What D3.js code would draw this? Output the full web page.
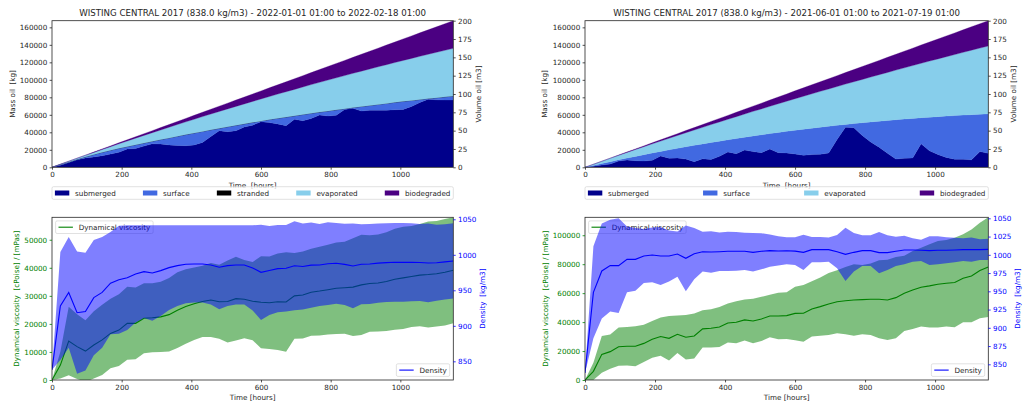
<!DOCTYPE html>
<html>
<head>
<meta charset="utf-8">
<script src="https://cdnjs.cloudflare.com/ajax/libs/d3/7.8.5/d3.min.js"></script>
<style>
  body { margin: 0; background: #fff; }
  svg { display: block; }
  text { white-space: pre; font-family: "DejaVu Sans", sans-serif; }
</style>
</head>
<body>
<svg id="fig" width="1026" height="410"></svg>
<script>
// ---------------- data ----------------
const oilDensity = 838.0; // kg/m3, used for the mass axis
const hours = [0,24,48,72,96,120,144,168,192,216,240,264,288,312,336,360,384,408,432,456,480,504,528,552,576,600,624,648,672,696,720,744,768,792,816,840,864,888,912,936,960,984,1008,1032,1056,1080,1104,1128,1152];

const titleWinter = "WISTING CENTRAL 2017 (838.0 kg/m3) - 2022-01-01 01:00 to 2022-02-18 01:00";
const titleSummer = "WISTING CENTRAL 2017 (838.0 kg/m3) - 2021-06-01 01:00 to 2021-07-19 01:00";

// oil budget, volume [m3]
const winterSubmerged = [0,2.8,6.5,10.2,12.8,14.2,15.8,18.0,20.5,25.0,25.5,29.0,32.0,31.8,30.5,29.8,29.5,30.5,34.0,42.0,50.0,48.6,50.0,55.0,57.5,62.3,61.0,59.2,56.8,65.5,63.6,66.5,71.4,70.0,71.0,79.0,80.5,76.8,78.0,78.0,78.0,78.5,79.0,83.0,88.5,93.0,92.0,91.8,91.8];
const winterSurface = [0,0.9,0.7,0.7,1.5,3.3,4.7,5.3,5.4,3.3,5.3,4.1,3.5,6.0,9.6,12.6,15.1,16.3,15.0,9.1,3.2,6.7,7.3,4.3,3.8,1.0,4.1,7.7,11.7,4.7,8.4,7.2,3.9,6.8,7.4,0.9,1.0,6.2,6.3,7.8,9.2,10.1,11.0,8.2,4.0,0.8,3.0,4.3,5.5];
const winterStranded = [0,0,0,0,0,0,0,0,0,0,0,0,0,0,0,0,0,0,0,0,0,0,0,0,0,0,0,0,0,0,0,0,0,0,0,0,0,0,0,0,0,0,0,0,0,0,0,0,0];
const winterEvaporated = [0,0.5,1.0,1.4,2.0,2.8,3.8,4.9,6.2,7.6,9.0,10.4,11.8,13.2,14.6,16.0,17.4,18.8,20.2,21.6,23.0,24.4,25.8,27.2,28.6,30.0,31.5,33.0,34.6,36.1,37.6,39.1,40.6,42.2,43.7,45.2,46.7,48.2,49.8,51.3,52.8,54.3,55.8,57.4,58.9,60.4,61.9,63.5,65.0];
const winterBiodegraded = [0,0.0,0.1,0.2,0.3,0.5,0.7,1.0,1.3,1.6,1.9,2.3,2.7,3.2,3.6,4.1,4.7,5.3,5.9,6.5,7.2,7.8,8.6,9.3,10.1,10.9,11.8,12.6,13.5,14.5,15.4,16.4,17.5,18.5,19.6,20.7,21.8,23.0,24.2,25.4,26.7,27.9,29.3,30.6,32.0,33.3,34.8,36.2,37.7];

const summerSubmerged = [0,1.5,3.0,4.5,8.5,10.0,9.0,8.6,9.5,15.5,12.5,12.6,11.2,7.7,11.6,10.5,15.0,21.0,18.6,23.5,21.4,20.0,25.0,20.0,19.5,18.2,16.4,17.3,17.7,19.5,38.0,54.5,54.0,43.5,34.5,27.5,19.0,11.2,12.5,12.7,32.0,22.5,17.5,13.5,11.0,11.0,10.2,21.5,19.0];
const summerSurface = [0,1.1,2.2,3.2,1.7,2.6,5.9,8.6,10.0,6.2,11.3,13.3,16.8,22.3,20.3,23.4,20.7,16.5,20.7,17.6,21.4,24.4,21.0,27.6,29.6,32.4,35.6,36.1,37.0,36.5,19.3,4.0,5.7,17.3,27.4,35.4,44.9,53.7,53.3,54.0,35.6,45.9,51.6,56.4,59.5,60.2,61.6,50.8,53.9];
const summerEvaporated = [0,1.5,3.0,4.6,6.1,7.7,9.3,10.9,12.5,14.1,15.8,17.5,19.2,20.9,22.6,24.4,26.2,28.0,29.8,31.6,33.5,35.3,37.2,39.1,41.0,43.0,44.9,46.9,48.9,50.9,52.9,55.0,57.0,59.1,61.2,63.4,65.5,67.7,69.9,72.1,74.3,76.5,78.8,81.0,83.3,85.6,88.0,90.3,92.7];
const summerBiodegraded = [0,0.0,0.1,0.2,0.4,0.6,0.8,1.1,1.4,1.7,2.1,2.4,2.9,3.3,3.8,4.3,4.8,5.3,5.9,6.5,7.1,7.8,8.5,9.2,9.9,10.7,11.5,12.3,13.1,13.9,14.8,15.7,16.6,17.6,18.5,19.5,20.6,21.6,22.7,23.7,24.9,26.0,27.1,28.3,29.5,30.7,32.0,33.2,34.5];

// oil properties: mean and spread among elements
const winterViscMean = [0,5300,13900,11900,10300,12500,14300,16600,17800,20200,20200,22000,22200,22500,23300,24900,26200,27200,28000,28500,27900,28000,29000,28800,28100,27700,27550,27900,27800,30000,30300,31300,31700,32200,32700,32900,33100,33900,34400,34600,35100,35900,36400,36900,37400,37600,37900,38400,39100];
const winterViscStd = [0,4800,12200,11500,11000,12000,12500,12400,12800,13000,12800,12500,12300,12500,13100,13500,13300,12900,12700,13200,13200,14600,14900,13950,13950,16400,16500,17200,17700,15300,15500,15500,15800,16000,16300,16400,17400,17900,17200,17300,17600,18000,18200,18000,18200,18900,18800,19000,18900];
const winterDensMean = [838,928,947,918.5,920,939.7,947,960,965,967.8,973,976.3,974.4,977.7,981.9,984.7,986.6,987.1,987.1,985.7,982.4,984.7,985.7,985.7,981.5,975.3,978,980.5,981,984.5,983.5,985.5,985.7,987.5,988,986.5,984.3,986.6,987,988.3,989,989.4,989.4,989.4,989.2,988.5,988.8,990,991.3];
const winterDensStd = [0,76,78,86,83,81,78,72,76,73.7,68.5,65.2,67.1,63.8,59.6,56.8,54.9,54.4,54.4,55.8,59.1,56.8,55.8,55.8,60,67.1,62.7,61.5,61,62.7,60.7,59.9,57.8,58.2,56.8,57.2,59.7,56.3,56.2,55.7,55.4,55.4,55.4,54.9,54.2,55.4,53.4,53.1,53];

const summerViscMean = [0,6000,17700,19600,23000,23300,23300,25300,28100,30000,28800,31600,29500,30400,35300,35700,36600,39400,39900,41500,40800,42200,44200,44200,44500,46000,46100,49100,50700,52500,54100,54800,55300,55500,55800,55800,55300,56900,59900,62200,64100,65000,66100,66800,67300,70300,71900,75600,78000];
const summerViscStd = [0,6000,12700,11850,13200,13300,13850,12900,12650,13250,15350,12900,15400,15550,12900,13200,13750,13500,14500,14150,15350,15300,14750,16000,16100,18500,19600,19100,20100,21400,21800,23200,24700,23900,24700,27000,27700,28100,26000,26900,27200,28800,29900,29900,30900,30400,32000,33000,34400];
const summerDensMean = [838,948.6,977.9,985.2,985.2,993.8,993.8,998.4,999.8,998.4,998.4,1001.1,995.2,1001.6,1004.3,1003.9,1004.3,1004.8,1004.8,1004.8,1003.4,1004.8,1005.7,1005.3,1005.5,1005,1003.4,1007.1,1007.1,1007.1,1004.3,1000.7,1003.4,1005.7,1005.7,1003,1003,1004.8,1006.6,1006.6,1006.2,1005.7,1006.2,1006.2,1006.6,1007.1,1007.1,1007.1,1007.5];
const summerDensStd = [0,63,65,63,65,45,43,37,37.5,39.7,35,31,45,35,27.3,28.3,26.4,26.9,26.5,25.6,26.4,24.7,22,20,18.5,19,24.2,17.4,17.4,16.5,22.8,36.5,26.4,21,21,28.3,23.8,20.1,19.6,16,14.6,19.6,19.2,17.8,16.9,15.5,16.5,14.2,14.6];

// tick labels
const hourTicks = [0,200,400,600,800,1000];
const massTicks = [0,20000,40000,60000,80000,100000,120000,140000,160000];
const volumeTicks = [0,25,50,75,100,125,150,175,200];
const viscTicksWinter = [0,10000,20000,30000,40000,50000];
const viscTicksSummer = [0,20000,40000,60000,80000,100000];
const densTicksWinter = [850,900,950,1000,1050];
const densTicksSummer = [850,875,900,925,950,975,1000,1025,1050];

// budget categories and colours
const budgetKeys = ["submerged","surface","stranded","evaporated","biodegraded"];
const budgetColors = {submerged:"#00008b", surface:"#4169e1", stranded:"#000000", evaporated:"#87ceeb", biodegraded:"#4b0082"};

// ---------------- drawing ----------------
const svg = d3.select("#fig");
const TXT = "#262626";
const FS = 7.2;       // tick / label / legend size
const FS_TITLE = 8.65;
const hourMax = 1152;

let clipCount = 0;
function addClip(b) {
  const id = "clip" + (clipCount++);
  svg.append("clipPath").attr("id", id).append("rect")
    .attr("x", b.x0).attr("y", b.y0).attr("width", b.x1 - b.x0).attr("height", b.y1 - b.y0);
  return "url(#" + id + ")";
}

function styleAxis(sel, color) {
  sel.attr("font-size", null).attr("font-family", null);
  sel.select(".domain").remove();
  sel.selectAll(".tick line").attr("stroke", color).attr("stroke-width", 0.8);
  sel.selectAll(".tick text").attr("fill", color).style("font-size", FS + "px");
}

function frame(g, b) {
  g.append("rect").attr("x", b.x0).attr("y", b.y0)
    .attr("width", b.x1 - b.x0).attr("height", b.y1 - b.y0)
    .attr("fill", "none").attr("stroke", TXT).attr("stroke-width", 0.8);
}

function rotatedLabel(g, x, yMid, text, color) {
  g.append("text").attr("transform", `translate(${x},${yMid}) rotate(-90)`)
    .attr("text-anchor", "middle").attr("fill", color).style("font-size", FS + "px").text(text);
}

function legendRect(g, x, y, w, h) {
  return g.insert("rect", ":first-child").attr("x", x).attr("y", y).attr("width", w).attr("height", h)
    .attr("rx", 1.5).attr("fill", "#fff").attr("fill-opacity", 0.8)
    .attr("stroke", "#cccccc").attr("stroke-width", 0.6);
}

function hourAxis(g, x, b, tickY) {
  const ax = g.append("g").attr("transform", `translate(0,${b.y1})`)
    .call(d3.axisBottom(x).tickValues(hourTicks).tickFormat(d3.format("d")).tickSize(2.4).tickPadding(2.4));
  styleAxis(ax, TXT);
}

function budgetPanel(b, title, series, keys, labelX) {
  const g = svg.append("g");
  const x = d3.scaleLinear().domain([0, hourMax]).range([b.x0, b.x1]);
  const yVol = d3.scaleLinear().domain([0, d3.max(volumeTicks)]).range([b.y1, b.y0]);
  const yMass = d3.scaleLinear().domain([0, d3.max(volumeTicks) * oilDensity]).range([b.y1, b.y0]);

  const rows = hours.map((h, i) => {
    const r = {h};
    keys.forEach(k => r[k] = series[k][i]);
    return r;
  });
  const layers = d3.stack().keys(keys)(rows);
  const area = d3.area().x(d => x(d.data.h)).y0(d => yVol(d[0])).y1(d => yVol(d[1]));
  const clip = addClip(b);
  g.append("g").attr("clip-path", clip).selectAll("path").data(layers).join("path")
    .attr("d", area).attr("fill", d => budgetColors[d.key])
    .attr("stroke", d => budgetColors[d.key]).attr("stroke-width", 0.3);

  frame(g, b);
  hourAxis(g, x, b);
  const left = g.append("g").attr("transform", `translate(${b.x0},0)`)
    .call(d3.axisLeft(yMass).tickValues(massTicks).tickFormat(d3.format("d")).tickSize(2.4).tickPadding(2.4));
  styleAxis(left, TXT);
  const right = g.append("g").attr("transform", `translate(${b.x1},0)`)
    .call(d3.axisRight(yVol).tickValues(volumeTicks).tickFormat(d3.format("d")).tickSize(2.4).tickPadding(2.4));
  styleAxis(right, TXT);

  const midY = (b.y0 + b.y1) / 2, midX = (b.x0 + b.x1) / 2;
  g.append("text").attr("x", midX).attr("y", b.y0 - 4.7).attr("text-anchor", "middle")
    .attr("fill", TXT).style("font-size", FS_TITLE + "px").text(title);
  rotatedLabel(g, labelX[0], midY, "Mass oil  [kg]", TXT);
  rotatedLabel(g, labelX[1], midY, "Volume oil [m3]", TXT);
  g.append("text").attr("x", midX).attr("y", b.y1 + 21).attr("text-anchor", "middle")
    .attr("fill", TXT).style("font-size", FS + "px").text("Time  [hours]");

  // legend spread across the width of the axes, below it
  const lg = g.append("g");
  const top = b.y1 + 19.4, h = 12.6, cy = top + h / 2;
  const pad = 2.9, handle = 14.4, gapText = 5.8;
  const items = keys.map(k => {
    const it = lg.append("g");
    it.append("rect").attr("x", 0).attr("y", cy - 2.5).attr("width", handle).attr("height", 5)
      .attr("fill", budgetColors[k]);
    const t = it.append("text").attr("x", handle + gapText).attr("y", cy).attr("dy", "0.35em")
      .attr("fill", TXT).style("font-size", FS + "px").text(k);
    return {it, w: handle + gapText + t.node().getComputedTextLength()};
  });
  const totalW = d3.sum(items, d => d.w);
  const spare = (b.x1 - b.x0 - 2 * pad - totalW) / (items.length - 1);
  let cx = b.x0 + pad;
  items.forEach(d => { d.it.attr("transform", `translate(${cx},0)`); cx += d.w + spare; });
  legendRect(lg, b.x0, top, b.x1 - b.x0, h);
}

function lineLegend(g, label, color, anchor, b) {
  const lg = g.append("g");
  const pad = 2.9, handle = 14.4, gapText = 5.8, h = 12.6;
  const t = lg.append("text").attr("fill", TXT).style("font-size", FS + "px").attr("dy", "0.35em").text(label);
  const w = pad * 2 + handle + gapText + t.node().getComputedTextLength();
  let x0, y0;
  if (anchor === "upper left") { x0 = b.x0 + 3.6; y0 = b.y0 + 3.6; }
  else { x0 = b.x1 - 3.6 - w; y0 = b.y1 - 3.6 - h; }
  const cy = y0 + h / 2;
  t.attr("x", x0 + pad + handle + gapText).attr("y", cy);
  lg.append("line").attr("x1", x0 + pad).attr("x2", x0 + pad + handle).attr("y1", cy).attr("y2", cy)
    .attr("stroke", color).attr("stroke-width", 1.1);
  legendRect(lg, x0, y0, w, h);
}

function propsPanel(b, d, labelX) {
  const g = svg.append("g");
  const x = d3.scaleLinear().domain([0, hourMax]).range([b.x0, b.x1]);
  const yV = d3.scaleLinear().domain([0, d.viscTop]).range([b.y1, b.y0]);
  const yD = d3.scaleLinear().domain(d.densDomain).range([b.y1, b.y0]);
  const clip = addClip(b);

  const idx = hours.map((h, i) => i);
  const viscBand = d3.area().x(i => x(hours[i]))
    .y0(i => yV(d.viscMean[i] - d.viscStd[i])).y1(i => yV(d.viscMean[i] + d.viscStd[i]));
  const viscLine = d3.line().x(i => x(hours[i])).y(i => yV(d.viscMean[i]));
  const densBand = d3.area().x(i => x(hours[i]))
    .y0(i => yD(d.densMean[i] - d.densStd[i])).y1(i => yD(d.densMean[i] + d.densStd[i]));
  const densLine = d3.line().x(i => x(hours[i])).y(i => yD(d.densMean[i]));

  // viscosity (left axis)
  const g1 = g.append("g").attr("clip-path", clip);
  g1.append("path").attr("d", viscBand(idx)).attr("fill", "green").attr("fill-opacity", 0.5);
  g1.append("path").attr("d", viscLine(idx)).attr("fill", "none").attr("stroke", "green").attr("stroke-width", 1.1);
  lineLegend(g, "Dynamical viscosity", "green", "upper left", b);

  // density (right axis), drawn above
  const g2 = g.append("g").attr("clip-path", clip);
  g2.append("path").attr("d", densBand(idx)).attr("fill", "blue").attr("fill-opacity", 0.5);
  g2.append("path").attr("d", densLine(idx)).attr("fill", "none").attr("stroke", "blue").attr("stroke-width", 1.1);
  lineLegend(g, "Density", "blue", "lower right", b);

  frame(g, b);
  hourAxis(g, x, b);
  const left = g.append("g").attr("transform", `translate(${b.x0},0)`)
    .call(d3.axisLeft(yV).tickValues(d.viscTicks).tickFormat(d3.format("d")).tickSize(2.4).tickPadding(2.4));
  styleAxis(left, "green");
  const right = g.append("g").attr("transform", `translate(${b.x1},0)`)
    .call(d3.axisRight(yD).tickValues(d.densTicks).tickFormat(d3.format("d")).tickSize(2.4).tickPadding(2.4));
  styleAxis(right, "blue");

  const midY = (b.y0 + b.y1) / 2, midX = (b.x0 + b.x1) / 2;
  rotatedLabel(g, labelX[0], midY, "Dynamical viscosity  [cPoise] / [mPas]", "green");
  rotatedLabel(g, labelX[1], midY, "Density  [kg/m3]", "blue");
  g.append("text").attr("x", midX).attr("y", b.y1 + 20.2).attr("text-anchor", "middle")
    .attr("fill", TXT).style("font-size", FS + "px").text("Time [hours]");
}

const boxTL = {x0: 52, x1: 453.3, y0: 20.7, y1: 167.3};
const boxTR = {x0: 585, x1: 988.3, y0: 20.7, y1: 167.3};
const boxBL = {x0: 52, x1: 453.3, y0: 217.3, y1: 380};
const boxBR = {x0: 585, x1: 988.3, y0: 217.3, y1: 380};

budgetPanel(boxTL, titleWinter, {
  submerged: winterSubmerged, surface: winterSurface, stranded: winterStranded,
  evaporated: winterEvaporated, biodegraded: winterBiodegraded
}, budgetKeys, [15, 480.5]);

budgetPanel(boxTR, titleSummer, {
  submerged: summerSubmerged, surface: summerSurface,
  evaporated: summerEvaporated, biodegraded: summerBiodegraded
}, ["submerged","surface","evaporated","biodegraded"], [546.5, 1015.5]);

propsPanel(boxBL, {
  viscMean: winterViscMean, viscStd: winterViscStd, densMean: winterDensMean, densStd: winterDensStd,
  viscTop: 58000, densDomain: [823.7, 1052.8], viscTicks: viscTicksWinter, densTicks: densTicksWinter
}, [19, 485]);

propsPanel(boxBR, {
  viscMean: summerViscMean, viscStd: summerViscStd, densMean: summerDensMean, densStd: summerDensStd,
  viscTop: 112400, densDomain: [828.5, 1051.4], viscTicks: viscTicksSummer, densTicks: densTicksSummer
}, [547.5, 1020]);
</script>
</body>
</html>
